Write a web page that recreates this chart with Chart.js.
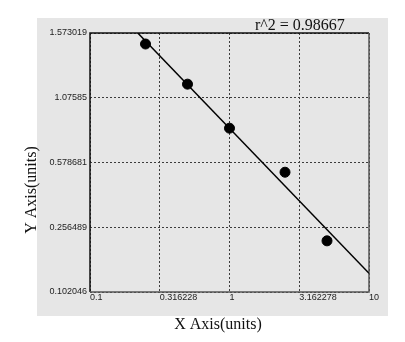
<!DOCTYPE html>
<html>
<head>
  <meta charset="UTF-8">
  <title>Standard curve</title>
  <script src="https://cdn.jsdelivr.net/npm/chart.js"></script>
  <style type="text/css">
    html, body { margin: 0; padding: 0; background: #ffffff; overflow: hidden; }
    #chart-container { width: 405px; height: 342px; position: relative; }
  </style>
</head>
<body>
  <div id="chart-container">
    <canvas id="graphCanvas" width="405" height="342"></canvas>
  </div>

  <script>
    // x tick values (log axis) and their labels
    let xTickValues = [0.1, 0.316228, 1, 3.162278, 10];
    let xTickLabels = ['0.1', '0.316228', '1', '3.162278', '10'];
    // y ticks are evenly spaced positions 0..4 with these labels
    let yTickLabels = ['0.102046', '0.256489', '0.578681', '1.07585', '1.573019'];

    // measured points
    let pointX = [0.25, 0.5, 1, 2.5, 5];
    let pointY = [3.83, 3.21, 2.53, 1.85, 0.79];

    // fitted line ends
    let fitX = [0.22, 10];
    let fitY = [4, 0.29];

    let rSquared = 'r^2 = 0.98667';
    let xTitle = 'X Axis(units)';
    let yTitle = 'Y Axis(units)';

    function toPoints(xs, ys) {
      let out = [];
      for (var i in xs) {
        out.push({ x: xs[i], y: ys[i] });
      }
      return out;
    }

    const backdrop = {
      id: 'backdrop',
      beforeDraw(chart) {
        const ctx = chart.ctx;
        ctx.save();
        ctx.fillStyle = '#ffffff';
        ctx.fillRect(0, 0, chart.width, chart.height);
        ctx.fillStyle = '#e6e6e6';
        ctx.fillRect(37, 18, 351, 298);
        ctx.restore();
      },
      beforeDatasetsDraw(chart) {
        const a = chart.chartArea;
        const ctx = chart.ctx;
        ctx.save();
        ctx.lineWidth = 1.5;
        ctx.strokeStyle = '#111111';
        ctx.beginPath();
        ctx.moveTo(a.left, a.bottom);
        ctx.lineTo(a.left, a.top);
        ctx.lineTo(a.right, a.top);
        ctx.stroke();
        ctx.strokeStyle = '#555555';
        ctx.beginPath();
        ctx.moveTo(a.right, a.top);
        ctx.lineTo(a.right, a.bottom);
        ctx.lineTo(a.left, a.bottom);
        ctx.stroke();
        ctx.restore();
      },
      afterDraw(chart) {
        const ctx = chart.ctx;
        ctx.save();
        ctx.fillStyle = '#111111';
        ctx.font = '16px "Liberation Serif", serif';
        ctx.textBaseline = 'alphabetic';
        ctx.textAlign = 'left';
        ctx.fillText(rSquared, 255, 30);
        ctx.textAlign = 'center';
        ctx.fillText(xTitle, 218, 329);
        ctx.translate(36, 190);
        ctx.rotate(-Math.PI / 2);
        ctx.fillText(yTitle, 0, 0);
        ctx.restore();
      }
    };

    const gridStyle = {
      color: '#3c3c3c',
      lineWidth: 1,
      drawTicks: false
    };

    new Chart(document.getElementById('graphCanvas'), {
      type: 'scatter',
      data: {
        datasets: [{
          label: 'points',
          data: toPoints(pointX, pointY),
          backgroundColor: '#000000',
          borderColor: '#000000',
          pointRadius: 5,
          showLine: false
        }, {
          label: 'fit',
          data: toPoints(fitX, fitY),
          borderColor: '#000000',
          borderWidth: 1.5,
          pointRadius: 0,
          showLine: true
        }]
      },
      options: {
        responsive: false,
        animation: false,
        layout: { padding: { top: 33, right: 36, left: 0, bottom: 0 } },
        plugins: {
          legend: { display: false },
          tooltip: { enabled: false }
        },
        scales: {
          x: {
            type: 'logarithmic',
            min: 0.1,
            max: 10,
            afterBuildTicks(scale) {
              scale.ticks = xTickValues.map(v => ({ value: v }));
            },
            afterFit(scale) { scale.height = 50; },
            grid: gridStyle,
            border: { display: false, dash: [2, 2] },
            ticks: {
              align: 'start',
              padding: 0,
              color: '#222222',
              font: { family: 'Liberation Sans', size: 9 },
              maxRotation: 0,
              autoSkip: false,
              callback: (v, i) => xTickLabels[i]
            }
          },
          y: {
            type: 'linear',
            min: 0,
            max: 4,
            afterFit(scale) { scale.width = 90; },
            grid: gridStyle,
            border: { display: false, dash: [2, 2] },
            ticks: {
              stepSize: 1,
              padding: 3,
              color: '#222222',
              font: { family: 'Liberation Sans', size: 9 },
              callback: (v, i) => yTickLabels[i]
            }
          }
        }
      },
      plugins: [backdrop]
    });
  </script>
</body>
</html>
